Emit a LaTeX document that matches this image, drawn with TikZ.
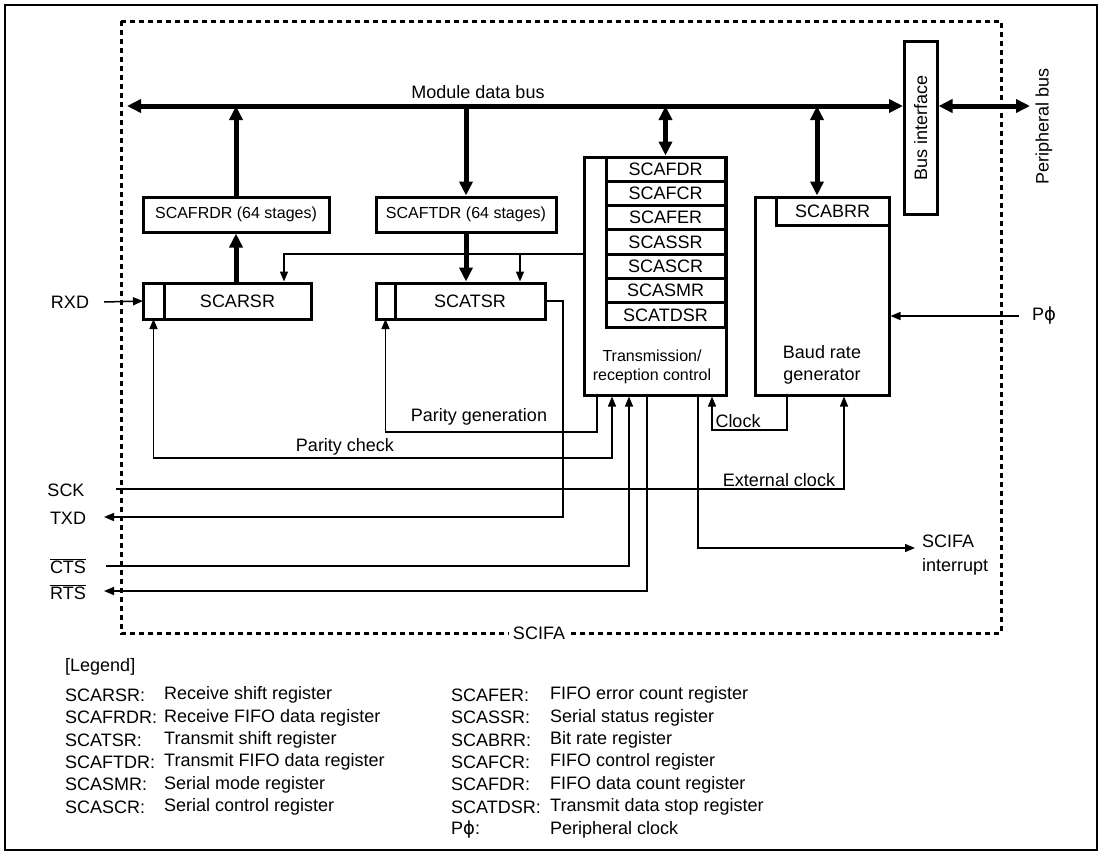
\documentclass[tikz,border=0pt]{standalone}
\usepackage{fontspec}
\setmainfont{Liberation Sans}
\newfontfamily\phifont{DejaVu Sans}
\usetikzlibrary{arrows.meta}
\newcommand{\Pphi}{P{\phifont ϕ}}

\begin{document}
\begin{tikzpicture}[
	x=1pt, y=-1pt,
	box/.style={draw, line width=3pt, inner sep=0pt, font=\fontsize{16}{19}\selectfont},
	reg/.style={draw, line width=3pt, inner sep=0pt, font=\fontsize{18}{21}\selectfont},
	txt/.style={inner sep=0pt, font=\fontsize{18}{21}\selectfont},
	leg/.style={anchor=west, inner sep=0pt, font=\fontsize{18}{21}\selectfont},
	bus/.style={line width=5pt, >={Triangle[length=14pt, width=13pt]}},
	sig/.style={line width=1.5pt, >={Triangle[length=10pt, width=8pt]}},
	scifa/.style={line width=3pt, dash pattern=on 5pt off 4pt},
	frame/.style={line width=2pt}
]
\useasboundingbox (0,0) rectangle (1103,855);
\draw[frame] (5,5) rectangle (1097,850);

% SCIFA module boundary
\draw[scifa] (121,21) rectangle (1001,633);
\node[txt, fill=white, inner sep=4pt] (scifa) at (539,633) {SCIFA};

% FIFOs and shift registers
\node[box, minimum width=186, minimum height=35] (rdr) at (236,214.5) {SCAFRDR (64 stages)};
\node[box, minimum width=180, minimum height=35] (tdr) at (466,214.5) {SCAFTDR (64 stages)};
\node[reg, minimum width=147, minimum height=36] (rsr) at (237.5,301) {SCARSR};
\node[reg, outer sep=0pt, minimum width=21, minimum height=36, anchor=east] (rsrbit) at ([xshift=1.5pt]rsr.west) {};
\node[reg, minimum width=150, minimum height=36] (tsr) at (470,301) {SCATSR};
\node[reg, outer sep=0pt, minimum width=19, minimum height=36, anchor=east] (tsrbit) at ([xshift=1.5pt]tsr.west) {};

% Transmission/reception control with its registers
\node[reg, minimum width=142, minimum height=238] (ctl) at (655,276) {};
\node[reg, minimum width=119, minimum height=24.3] (fdr) at (665.5,169.15) {SCAFDR};
\node[reg, minimum width=119, minimum height=24.3] (fcr) at (665.5,193.45) {SCAFCR};
\node[reg, minimum width=119, minimum height=24.3] (fer) at (665.5,217.75) {SCAFER};
\node[reg, minimum width=119, minimum height=24.3] (ssr) at (665.5,242.05) {SCASSR};
\node[reg, minimum width=119, minimum height=24.3] (scr) at (665.5,266.35) {SCASCR};
\node[reg, minimum width=119, minimum height=24.3] (smr) at (665.5,290.65) {SCASMR};
\node[reg, minimum width=119, minimum height=24.3] (tdsr) at (665.5,314.95) {SCATDSR};
\node[txt, align=center, font=\fontsize{16}{19.5}\selectfont] (ctltxt) at (652,367) {Transmission/\\reception control};

% Baud rate generator
\node[reg, minimum width=134, minimum height=198] (baud) at (822,296) {};
\node[reg, minimum width=113, minimum height=28] (brr) at (832.5,211) {SCABRR};
\node[txt, align=center, font=\fontsize{18}{22}\selectfont] (baudtxt) at (822,365) {Baud rate\\generator};

% Bus interface (rotated: its north side faces the module bus)
\node[reg, rotate=90, minimum width=173, minimum height=32.5] (bif) at (920.75,127.5) {Bus interface};
\node[txt, rotate=90] (pbustxt) at (1044,126) {Peripheral bus};

% Module data bus
\coordinate (busL) at (127,106);
\coordinate (pbus) at (1030,106);
\coordinate (busC) at (fdr.north |- busL);
\coordinate (busB) at (817,106);
\node[txt] (bustxt) at (478,92) {Module data bus};
\draw[bus,<->] (busL) -- (bif.north |- busL);
\draw[bus,<->] (bif.south |- busL) -- (pbus);
\draw[bus,->] (rdr.north) -- (rdr.north |- busL);
\draw[bus,->] (tdr.north |- busL) -- (tdr.north);
\draw[bus,->] (rdr.south |- rsr.north) -- (rdr.south);
\draw[bus,->] (tdr.south) -- (tdr.south |- tsr.north);
\draw[bus,<->] (busC) -- (fdr.north);
\draw[bus,<->] (busB) -- (busB |- brr.north);

% Control lines to the shift registers
\draw[sig,->] (ctl.west |- 0,254) -| (284,0 |- rsr.north);
\draw[sig,->] (520,254) -- (520,0 |- tsr.north);
\draw[sig,->] (ctl.south -| 597,0) |- (tsrbit.south |- 0,432) -- (tsrbit.south);
\draw[sig,<->] (rsrbit.south) |- (612,458) -- (ctl.south -| 612,0);
\node[txt] (pgen) at (479,417) {Parity generation};
\node[txt] (pchk) at (345,447) {Parity check};

% External pins
\node[txt] (rxd) at (70,302) {RXD};
\node[txt] (sck) at (66,490) {SCK};
\node[txt] (txd) at (68,518) {TXD};
\node[txt] (cts) at (68,566) {\(\overline{\hbox{CTS}}\)};
\node[txt] (rts) at (68,592) {\(\overline{\hbox{RTS}}\)};
\coordinate (rxdend) at (104,302);
\coordinate (sckend) at (116,489);
\coordinate (txdend) at (104,517);
\coordinate (ctsend) at (106,566);
\coordinate (rtsend) at (104,591);
\draw[sig,->] (rxdend) -- (rsrbit.west);
\draw[sig,->] (sckend) -| (baud.south -| 844,0);
\draw[sig,->] (tsr.east) -| (563,517) -- (txdend);
\draw[sig,->] (ctsend) -| (ctl.south -| 629,0);
\draw[sig,->] (ctl.south -| 647,0) |- (rtsend);
\node[txt] (extclk) at (779,480) {External clock};

% Clock, interrupt and peripheral clock
\draw[sig,->] (baud.south -| 787,0) |- (712,430) -- (ctl.south -| 712,0);
\node[txt] (clk) at (738,421) {Clock};
\coordinate (irqend) at (915,548);
\draw[sig,->] (ctl.south -| 698,0) |- (irqend);
\node[txt, anchor=west, align=left, font=\fontsize{18}{24}\selectfont] (irq) at (922,555) {SCIFA\\interrupt};
\coordinate (pphiend) at (1019,316);
\draw[sig,->] (pphiend) -- (baud.east |- pphiend);
\node[txt, anchor=west] (pphi) at (1032,316) {\Pphi};

% Legend
\node[leg] (legend) at (65,667) {[Legend]};
\node[leg] (l1) at (65,695) {SCARSR:};
\node[leg] (d1) at (164,695) {Receive shift register};
\node[leg] (l2) at (65,717.4) {SCAFRDR:};
\node[leg] (d2) at (164,717.4) {Receive FIFO data register};
\node[leg] (l3) at (65,739.8) {SCATSR:};
\node[leg] (d3) at (164,739.8) {Transmit shift register};
\node[leg] (l4) at (65,762.2) {SCAFTDR:};
\node[leg] (d4) at (164,762.2) {Transmit FIFO data register};
\node[leg] (l5) at (65,784.6) {SCASMR:};
\node[leg] (d5) at (164,784.6) {Serial mode register};
\node[leg] (l6) at (65,807) {SCASCR:};
\node[leg] (d6) at (164,807) {Serial control register};
\node[leg] (r1) at (451,695) {SCAFER:};
\node[leg] (e1) at (550,695) {FIFO error count register};
\node[leg] (r2) at (451,717.4) {SCASSR:};
\node[leg] (e2) at (550,717.4) {Serial status register};
\node[leg] (r3) at (451,739.8) {SCABRR:};
\node[leg] (e3) at (550,739.8) {Bit rate register};
\node[leg] (r4) at (451,762.2) {SCAFCR:};
\node[leg] (e4) at (550,762.2) {FIFO control register};
\node[leg] (r5) at (451,784.6) {SCAFDR:};
\node[leg] (e5) at (550,784.6) {FIFO data count register};
\node[leg] (r6) at (451,807) {SCATDSR:};
\node[leg] (e6) at (550,807) {Transmit data stop register};
\node[leg] (r7) at (451,829.4) {\Pphi:};
\node[leg] (e7) at (550,829.4) {Peripheral clock};
\end{tikzpicture}
\end{document}
